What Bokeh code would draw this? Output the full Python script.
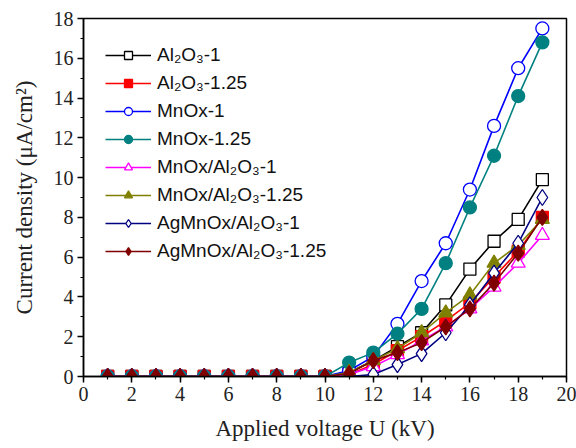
from bokeh.plotting import figure
from bokeh.models import Range1d, Legend, LegendItem, FixedTicker
from bokeh.embed import file_html
from bokeh.resources import INLINE

voltage = list(range(1, 20))

names = ["Al₂O₃-1", "Al₂O₃-1.25", "MnOx-1", "MnOx-1.25",
         "MnOx/Al₂O₃-1", "MnOx/Al₂O₃-1.25", "AgMnOx/Al₂O₃-1", "AgMnOx/Al₂O₃-1.25"]

zeros = [0] * 9
al2o3_1 = zeros + [0, 0.2, 0.8, 1.5, 2.2, 3.6, 5.4, 6.8, 7.9, 9.9]
al2o3_125 = zeros + [0, 0.1, 0.6, 1.3, 2.0, 2.8, 3.7, 5.0, 6.3, 8.0]
mnox_1 = zeros + [0, 0.3, 1.0, 2.65, 4.8, 6.7, 9.4, 12.6, 15.5, 17.5]
mnox_125 = zeros + [0, 0.7, 1.2, 2.15, 3.4, 5.7, 8.5, 11.1, 14.1, 16.8]
mnox_al_1 = zeros + [0, 0.1, 0.5, 1.1, 1.8, 2.5, 3.4, 4.5, 5.7, 7.1]
mnox_al_125 = zeros + [0, 0.2, 0.8, 1.4, 2.2, 3.2, 4.1, 5.7, 6.6, 7.9]
agmnox_al_1 = zeros + [0, 0, 0.1, 0.6, 1.15, 2.2, 3.6, 5.2, 6.7, 9.0]
agmnox_al_125 = zeros + [0, 0.15, 0.8, 1.2, 1.7, 2.5, 3.4, 4.7, 6.2, 8.0]

series = [al2o3_1, al2o3_125, mnox_1, mnox_125, mnox_al_1, mnox_al_125, agmnox_al_1, agmnox_al_125]
colors = ["#000000", "#ff0000", "#0000ff", "#008080", "#ff00ff", "#808000", "#000080", "#800000"]
markers = ["square", "square", "circle", "circle", "triangle", "triangle", "diamond", "diamond"]
filled = [False, True, False, True, False, True, False, True]
msizes = [12, 12, 13, 13, 14, 14, 16, 16]

x_ticks = list(range(0, 21, 2))
y_ticks = list(range(0, 19, 2))

p = figure(width=576, height=448, output_backend="svg", toolbar_location=None,
           x_range=Range1d(0, 20), y_range=Range1d(0, 18),
           min_border_left=83, min_border_right=10, min_border_top=18, min_border_bottom=72)
p.grid.visible = False
p.outline_line_color = "black"
p.outline_line_width = 1.5
p.background_fill_color = "white"

items = []
for name, ys, c, m, f, s in zip(names, series, colors, markers, filled, msizes):
    r1 = p.line(voltage, ys, line_color=c, line_width=1.6)
    r2 = p.scatter(voltage, ys, marker=m, size=s, line_color=c, line_width=1.3,
                   fill_color=(c if f else "white"))
    items.append(LegendItem(label=name, renderers=[r1, r2]))

for ax in (p.xaxis[0], p.yaxis[0]):
    ax.axis_line_width = 1.5
    ax.major_tick_line_width = 1.5
    ax.minor_tick_line_width = 1.2
    ax.major_tick_in = 0
    ax.major_tick_out = 6
    ax.minor_tick_in = 0
    ax.minor_tick_out = 3
    ax.major_label_text_font = "Liberation Serif"
    ax.major_label_text_font_size = "20px"
    ax.major_label_text_color = "#222222"
    ax.axis_label_text_font = "Liberation Serif"
    ax.axis_label_text_font_size = "23px"
    ax.axis_label_text_font_style = "normal"
    ax.axis_label_text_color = "#222222"

p.xaxis.ticker = FixedTicker(ticks=x_ticks, minor_ticks=list(range(0, 21)))
p.yaxis.ticker = FixedTicker(ticks=y_ticks, minor_ticks=list(range(0, 19)))
p.xaxis.axis_label = "Applied voltage U (kV)"
p.yaxis.axis_label = "Current density (μA/cm²)"
p.xaxis.major_label_standoff = 4
p.yaxis.major_label_standoff = 4
p.xaxis.axis_label_standoff = 12
p.yaxis.axis_label_standoff = 14

legend = Legend(items=items, location=(22, 112))
legend.margin = 0
legend.padding = 5
legend.spacing = 2
legend.glyph_width = 46
legend.glyph_height = 20
legend.label_height = 26
legend.label_standoff = 6
legend.label_text_font = "Liberation Sans"
legend.label_text_font_size = "19px"
legend.label_text_color = "#111111"
legend.border_line_color = None
legend.background_fill_alpha = 0
p.add_layout(legend)

open("out.html", "w").write(file_html(p, INLINE))
